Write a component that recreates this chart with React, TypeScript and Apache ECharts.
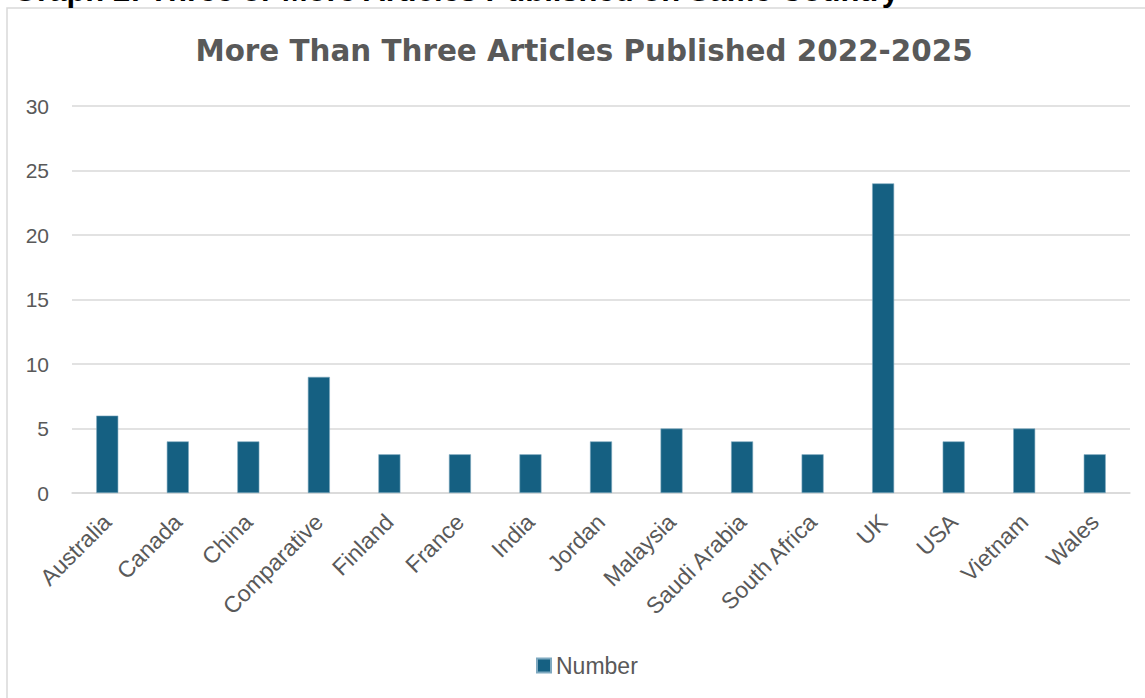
import React, { useEffect, useRef } from "react";
import * as echarts from "echarts";

const categories: string[] = [
  "Australia", "Canada", "China", "Comparative", "Finland", "France", "India",
  "Jordan", "Malaysia", "Saudi Arabia", "South Africa", "UK", "USA", "Vietnam", "Wales",
];
const numberValues: number[] = [6, 4, 4, 9, 3, 3, 3, 4, 5, 4, 3, 24, 4, 5, 3];
const seriesName = "Number";
const chartTitle = "More Than Three Articles Published 2022-2025";
const headerText = "Graph 2: Three or More Articles Published on Same Country";

export default function App() {
  const ref = useRef<HTMLDivElement>(null);
  useEffect(() => {
    if (!ref.current) return;
    const chart = echarts.init(ref.current, undefined, { renderer: "svg" });
    chart.setOption({
      animation: false,
      backgroundColor: "#ffffff",
      graphic: [
        {
          type: "rect",
          shape: { x: 7, y: 8, width: 1160, height: 720 },
          style: { fill: "none", stroke: "#d9d9d9", lineWidth: 1.5 },
          z: 0,
        },
        {
          type: "text",
          x: 13,
          y: 6,
          style: {
            text: headerText,
            fill: "#000000",
            font: "bold 31px 'Liberation Sans', Arial, sans-serif",
            align: "left",
            verticalAlign: "bottom",
          },
          z: 10,
        },
        {
          type: "text",
          x: 584,
          y: 51,
          style: {
            text: chartTitle,
            fill: "#595959",
            font: "bold 29.4px 'DejaVu Sans', sans-serif",
            align: "center",
            verticalAlign: "middle",
          },
        },
      ],
      legend: {
        data: [seriesName],
        left: 536,
        top: 654,
        padding: 0,
        icon: "rect",
        itemWidth: 14,
        itemHeight: 14,
        itemGap: 10,
        textStyle: {
          color: "#595959",
          fontSize: 23,
          fontFamily: "'Liberation Sans', Arial, sans-serif",
        },
      },
      grid: { left: 72, right: 15, top: 106, bottom: 205, containLabel: false },
      xAxis: {
        type: "category",
        data: categories,
        axisLine: { show: true, lineStyle: { color: "#d9d9d9", width: 1.5 } },
        axisTick: { show: false },
        axisLabel: {
          interval: 0,
          rotate: 45,
          margin: 25,
          color: "#595959",
          fontSize: 23,
          fontFamily: "'Liberation Sans', Arial, sans-serif",
        },
      },
      yAxis: {
        type: "value",
        min: 0,
        max: 30,
        interval: 5,
        axisLine: { show: false },
        axisTick: { show: false },
        splitLine: { lineStyle: { color: "#d9d9d9", width: 1.5 } },
        axisLabel: {
          margin: 23,
          color: "#595959",
          fontSize: 21,
          fontFamily: "'Liberation Sans', Arial, sans-serif",
        },
      },
      series: [
        {
          name: seriesName,
          type: "bar",
          data: numberValues,
          barWidth: 22,
          itemStyle: { color: "#156082", borderColor: "#7fa9c0", borderWidth: 0.6 },
        },
      ],
    });
    return () => chart.dispose();
  }, []);
  return (
    <div
      ref={ref}
      style={{ position: "absolute", left: 0, top: 0, width: 1145, height: 698 }}
    />
  );
}
